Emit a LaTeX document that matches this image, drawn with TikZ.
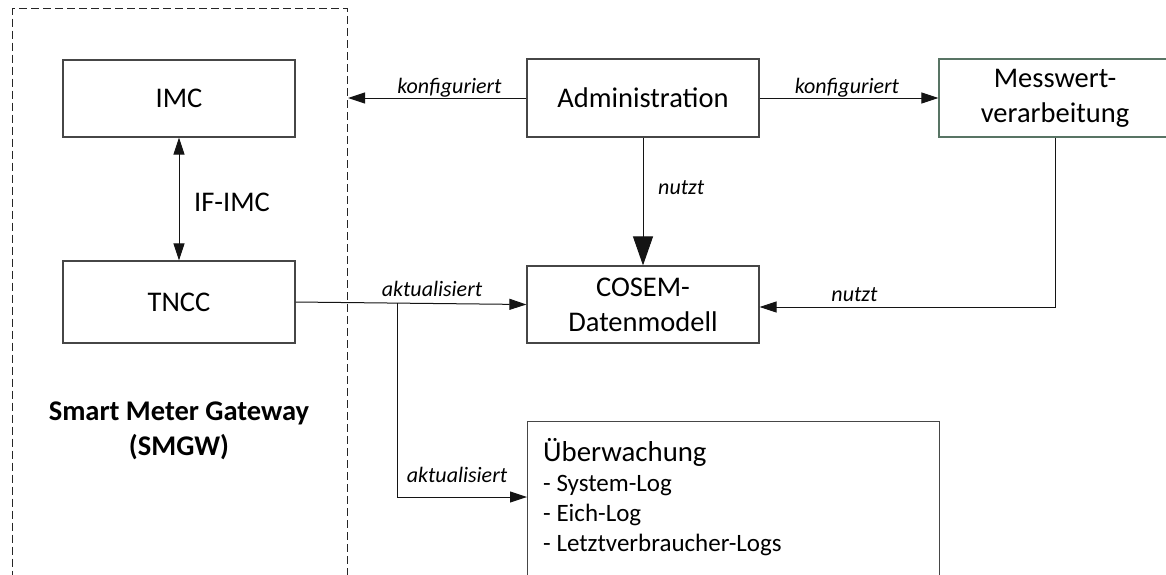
\documentclass[tikz,border=0pt]{standalone}
\usepackage{fontspec}
\setmainfont{Carlito}
\usetikzlibrary{arrows.meta,calc}
\definecolor{boxline}{RGB}{70,70,70}
\definecolor{mwline}{RGB}{88,116,100}
\definecolor{wire}{RGB}{20,20,20}
\tikzset{
  block/.style={draw=boxline, line width=1.2pt, minimum width=232pt, inner sep=0pt,
    align=center, font=\fontsize{28.5}{35}\selectfont},
  wirearrow/.style={draw=wire, line width=1pt, -{Triangle[length=17pt,width=11pt]}},
  bothways/.style={draw=wire, line width=1pt, {Triangle[length=17pt,width=11pt]}-{Triangle[length=17pt,width=11pt]}},
  bigarrow/.style={draw=wire, line width=1pt, -{Triangle[length=29pt,width=20pt]}},
  lbl/.style={font=\itshape\fontsize{22}{26}\selectfont, anchor=base, inner sep=0pt},
  gwframe/.style={draw=black!85, line width=1pt, dash pattern=on 8pt off 4pt},
  plaintext/.style={inner sep=0pt, font=\fontsize{28.5}{35}\selectfont},
}
\begin{document}
\begin{tikzpicture}[x=1pt,y=-1pt]
\useasboundingbox (0,0) rectangle (1166,574);

% gateway frame (open towards the bottom edge)
\node[gwframe, anchor=north west, minimum width=335pt, minimum height=640pt, inner sep=0pt] (gw) at (12,8) {};

% gateway components
\node[block, minimum height=77pt] (imc) at (179,98.5) {IMC};
\node[block, minimum height=82pt] (tncc) at (179,302) {TNCC};
\node[plaintext, anchor=west] (ifimc) at (194,202) {IF-IMC};
\node[plaintext, align=center, font=\bfseries\fontsize{28.5}{35}\selectfont] (gwname) at (179,430.5)
  {Smart Meter Gateway\\(SMGW)};

% functional blocks
\node[block, minimum height=78pt] (adm) at (643,98) {Administration};
\node[block, minimum height=77pt] (cosem) at (643,304.5) {COSEM-\\Datenmodell};
\node[block, draw=mwline, minimum height=78pt] (mw) at (1055,98) {Messwert-\\verarbeitung};
\node[draw=boxline, line width=1.2pt, anchor=north west, minimum width=412pt,
  minimum height=200pt, inner sep=0pt] (ueb) at (527,421) {};
\node[anchor=north west, align=left, inner sep=0pt, font=\fontsize{25}{30}\selectfont] (uebtxt)
  at (543,438) {{\fontsize{28.8}{35}\selectfont Überwachung}\\- System-Log\\- Eich-Log\\- Letztverbraucher-Logs};

% connectors
\draw[bothways] (imc.south) -- (tncc.north);
\draw[wirearrow] (adm.west) -- (adm.west -| gw.east);
\draw[wirearrow] (adm.east) -- (mw.west);
\draw[bigarrow] (adm.south) -- (cosem.north);
\draw[wirearrow] (mw.south) |- ([yshift=-2.5pt]cosem.east);
\draw[wirearrow] (tncc.east) -- (cosem.west);
\coordinate (split) at ($(tncc.east)!0.44!(cosem.west)$);
\draw[wirearrow] (split) |- ([yshift=-76pt]ueb.north west);

% connector labels
\node[lbl] (cfgl) at (449.5,93) {konfiguriert};
\node[lbl] (cfgr) at (847,93) {konfiguriert};
\node[lbl, anchor=base west] (useadm) at (658,194) {nutzt};
\node[lbl] (usemw) at (854.5,301) {nutzt};
\node[lbl] (updc) at (432,296) {aktualisiert};
\node[lbl] (updu) at (457,482) {aktualisiert};
\end{tikzpicture}
\end{document}
